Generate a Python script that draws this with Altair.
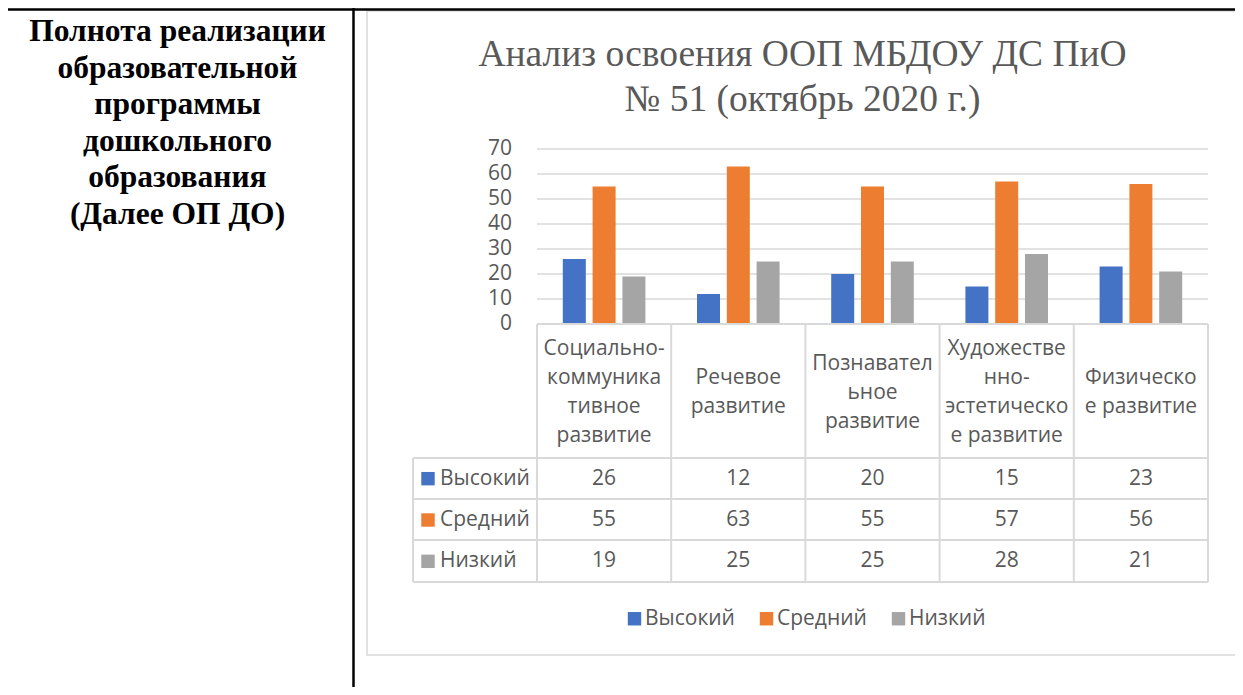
import altair as alt
import pandas as pd

# ---------------- data ----------------
categories = [
    "Социально-коммуникативное развитие",
    "Речевое развитие",
    "Познавательное развитие",
    "Художественно-эстетическое развитие",
    "Физическое развитие",
]
category_labels = [
    "Социально-\nкоммуника\nтивное\nразвитие",
    "Речевое\nразвитие",
    "Познавател\nьное\nразвитие",
    "Художестве\nнно-\nэстетическо\nе развитие",
    "Физическо\nе развитие",
]
series = ["Высокий", "Средний", "Низкий"]
vysokiy = [26, 12, 20, 15, 23]
sredniy = [55, 63, 55, 57, 56]
nizkiy = [19, 25, 25, 28, 21]
y_ticks = [0, 10, 20, 30, 40, 50, 60, 70]
colors = ["#4472C4", "#ED7D31", "#A5A5A5"]

title_lines = "Анализ освоения ООП МБДОУ ДС ПиО\n№ 51 (октябрь 2020 г.)"
left_text = "Полнота реализации\nобразовательной\nпрограммы\nдошкольного\nобразования\n(Далее ОП ДО)"

# ---------------- tables ----------------
rows = []
for s, vals in zip(series, [vysokiy, sredniy, nizkiy]):
    for c, v in zip(categories, vals):
        rows.append({"cat": c, "series": s, "value": v})
df = pd.DataFrame(rows)
df_cat = pd.DataFrame({"cat": categories, "label": category_labels})
df_ticks = pd.DataFrame({"tick": y_ticks})
df_series = pd.DataFrame({"series": series})

SANS = "Open Sans"
GRAY_TXT = "#595959"
GRID = "#d9d9d9"
FS = 21

xscale = alt.Scale(domain=categories, range=[529, 1200], paddingInner=0, paddingOuter=0)
yscale = alt.Scale(domain=[0, 70], range=[316, 141], nice=False, zero=True)
rowscale = alt.Scale(domain=series, range=[450, 574], paddingInner=0, paddingOuter=0)
cscale = alt.Scale(domain=series, range=colors)

X = lambda **kw: alt.X("cat:N", scale=xscale, axis=None, sort=categories, **kw)

# gridlines
grid = alt.Chart(df_ticks).mark_rule(color=GRID, strokeWidth=1.3).encode(
    y=alt.Y("tick:Q", scale=yscale, axis=None),
    x=alt.value(529), x2=alt.value(1200),
)
ylabels = alt.Chart(df_ticks).mark_text(
    align="right", baseline="middle", font=SANS, fontSize=FS, color=GRAY_TXT
).encode(
    y=alt.Y("tick:Q", scale=yscale, axis=None),
    x=alt.value(504),
    text="tick:Q",
)

bars = alt.Chart(df).mark_bar().encode(
    x=X(),
    xOffset=alt.XOffset("series:N", sort=series,
                        scale=alt.Scale(domain=series, paddingInner=0.228, paddingOuter=0.866)),
    y=alt.Y("value:Q", scale=yscale, axis=None),
    y2=alt.datum(0),
    color=alt.Color("series:N", scale=cscale, sort=series,
                    legend=alt.Legend(
                        orient="none", legendX=616, legendY=600, direction="horizontal",
                        title=None, symbolType="square", symbolSize=180,
                        symbolStrokeWidth=0, labelFont=SANS, labelFontSize=FS,
                        labelColor=GRAY_TXT, labelOffset=0, columnPadding=21, padding=0,
                    )),
)

# table borders
vlines = alt.Chart(df_cat).mark_rule(color=GRID, strokeWidth=2).encode(
    x=X(bandPosition=0), y=alt.value(316), y2=alt.value(574)
)
vline_last = alt.Chart(df_cat.tail(1)).mark_rule(color=GRID, strokeWidth=2).encode(
    x=X(bandPosition=1), y=alt.value(316), y2=alt.value(574)
)
hl = []
for yy, x0 in [(316, 529), (450, 405), (491, 405), (532, 405), (574, 405)]:
    hl.append(alt.Chart(df_cat.head(1)).mark_rule(color=GRID, strokeWidth=2).encode(
        x=alt.value(x0), x2=alt.value(1200), y=alt.value(yy)))
vleft = alt.Chart(df_cat.head(1)).mark_rule(color=GRID, strokeWidth=2).encode(
    x=alt.value(405), y=alt.value(450), y2=alt.value(574))

# category header text, block centred vertically in the header row
LH = 29
CY = 384.5
cat_text = alt.Chart(df_cat).transform_calculate(
    n="length(split(datum.label, '\\n'))"
).mark_text(
    align="center", baseline="middle", font=SANS, fontSize=FS, color=GRAY_TXT,
    lineBreak="\n", lineHeight=LH,
).encode(
    x=X(),
    y=alt.Y("n:Q", scale=alt.Scale(domain=[1, 4], range=[CY, CY - 3 * LH / 2]), axis=None),
    text="label:N",
)

val_text = alt.Chart(df).mark_text(
    align="center", baseline="middle", font=SANS, fontSize=FS, color=GRAY_TXT
).encode(
    x=X(), y=alt.Y("series:N", scale=rowscale, axis=None, sort=series), text="value:Q"
)

row_sq = alt.Chart(df_series).mark_square(size=180, opacity=1, strokeWidth=0).encode(
    x=alt.value(420),
    y=alt.Y("series:N", scale=rowscale, axis=None, sort=series),
    color=alt.Color("series:N", scale=cscale, legend=None),
)
row_txt = alt.Chart(df_series).mark_text(
    align="left", baseline="middle", font=SANS, fontSize=FS, color=GRAY_TXT
).encode(
    x=alt.value(432),
    y=alt.Y("series:N", scale=rowscale, axis=None, sort=series),
    text="series:N",
)

# chart frame and document table
frame = alt.Chart(df_cat.head(1)).mark_rect(fill="white", stroke=GRID, strokeWidth=1.5).encode(
    x=alt.value(359), x2=alt.value(1230), y=alt.value(3), y2=alt.value(647))
top_line = alt.Chart(df_cat.head(1)).mark_rule(color="black", strokeWidth=2.5).encode(
    x=alt.value(0), x2=alt.value(1227), y=alt.value(1.5))
mid_line = alt.Chart(df_cat.head(1)).mark_rule(color="black", strokeWidth=2.5).encode(
    x=alt.value(345.5), y=alt.value(0), y2=alt.value(679))

title = alt.Chart(df_cat.head(1)).mark_text(
    align="center", baseline="middle", font="Liberation Serif", fontSize=37.5,
    color=GRAY_TXT, lineBreak="\n", lineHeight=45,
).encode(x=alt.value(794.5), y=alt.value(47), text=alt.value(title_lines))

left = alt.Chart(df_cat.head(1)).mark_text(
    align="center", baseline="middle", font="Liberation Serif", fontSize=31.5,
    fontWeight="bold", color="black", lineBreak="\n", lineHeight=36.6,
).encode(x=alt.value(169.5), y=alt.value(24), text=alt.value(left_text))

chart = alt.layer(
    frame, top_line, mid_line, title, left,
    grid, ylabels, bars, *hl, vleft, vlines, vline_last,
    cat_text, val_text, row_sq, row_txt,
).resolve_scale(y="independent").properties(
    width=1227, height=679, padding=0,
    autosize=alt.AutoSizeParams(type="none"),
    background="white",
).configure_view(stroke=None)

chart.save("out.html", embed_options={"renderer": "svg", "actions": False})
